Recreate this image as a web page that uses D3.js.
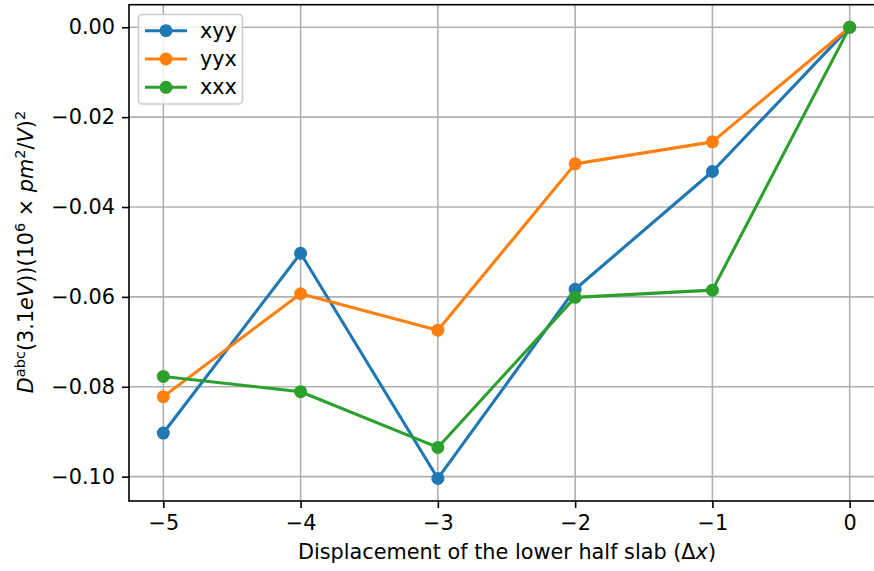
<!DOCTYPE html>
<html lang="en">
<head>
<meta charset="utf-8">
<title>Displacement chart</title>
<script src="https://cdn.jsdelivr.net/npm/d3@7"></script>
<style>
  body { margin: 0; background: #fff; }
  svg { font-family: "DejaVu Sans", sans-serif; }
</style>
</head>
<body>
<script>
// data
var displacement = [-5, -4, -3, -2, -1, 0];
var xyy = [-0.0903, -0.0503, -0.1004, -0.0583, -0.0321, 0.0];
var yyx = [-0.0822, -0.0593, -0.0674, -0.0304, -0.0255, 0.0];
var xxx = [-0.0777, -0.0811, -0.0935, -0.0601, -0.0585, 0.0];
var seriesNames = ["xyy", "yyx", "xxx"];
var seriesColors = ["#1f77b4", "#ff7f0e", "#2ca02c"];
var xTicks = [-5, -4, -3, -2, -1, 0];
var yTicks = [0, -0.02, -0.04, -0.06, -0.08, -0.10];

var w = 874, h = 571;
var padL = 129, padR = 884, padT = 4.7, padB = 501;
var fs = "20.8px", fsSup = "14.5px";

var svg = d3.select("body").append("svg")
  .attr("width", w).attr("height", h);

var allVals = xyy.concat(yyx, xxx);
var ymin = d3.min(allVals), ymax = d3.max(allVals);
var ypad = (ymax - ymin) * 0.05;
var xpad = (d3.max(displacement) - d3.min(displacement)) * 0.05;

var x = d3.scaleLinear()
  .domain([d3.min(displacement) - xpad, d3.max(displacement) + xpad])
  .range([padL, padR]);
var y = d3.scaleLinear()
  .domain([ymin - ypad, ymax + ypad])
  .range([padB, padT]);

// grid
svg.append("g").selectAll("line").data(xTicks).enter().append("line")
  .attr("x1", function(d) { return x(d); }).attr("x2", function(d) { return x(d); })
  .attr("y1", padT).attr("y2", padB)
  .attr("stroke", "#b0b0b0").attr("stroke-width", 1.6);
svg.append("g").selectAll("line").data(yTicks).enter().append("line")
  .attr("x1", padL).attr("x2", padR)
  .attr("y1", function(d) { return y(d); }).attr("y2", function(d) { return y(d); })
  .attr("stroke", "#b0b0b0").attr("stroke-width", 1.6);

// axes
var fmtMinus = function(s) { return s.replace("-", "\u2212"); };
var xAxis = d3.axisBottom(x).tickValues(xTicks).tickSizeOuter(0).tickSizeInner(7).tickPadding(7)
  .tickFormat(function(d) { return fmtMinus(d3.format("d")(d)); });
var yAxis = d3.axisLeft(y).tickValues(yTicks).tickSizeOuter(0).tickSizeInner(7).tickPadding(7)
  .tickFormat(function(d) { return fmtMinus(d3.format(".2f")(d)); });

var gx = svg.append("g").attr("transform", "translate(0," + padB + ")").call(xAxis);
var gy = svg.append("g").attr("transform", "translate(" + padL + ",0)").call(yAxis);
[gx, gy].forEach(function(g) {
  g.select(".domain").remove();
  g.selectAll(".tick line").attr("stroke", "#000").attr("stroke-width", 1.6);
  g.selectAll(".tick text").attr("fill", "#000")
    .style("font-family", "DejaVu Sans").style("font-size", fs);
});

// series
var data = [xyy, yyx, xxx];
var line = d3.line()
  .x(function(d, i) { return x(displacement[i]); })
  .y(function(d) { return y(d); });

data.forEach(function(vals, k) {
  var g = svg.append("g");
  g.append("path").datum(vals)
    .attr("d", line).attr("fill", "none")
    .attr("stroke", seriesColors[k]).attr("stroke-width", 3.1)
    .attr("stroke-linejoin", "round").attr("stroke-linecap", "square");
  g.selectAll("circle").data(vals).enter().append("circle")
    .attr("cx", function(d, i) { return x(displacement[i]); })
    .attr("cy", function(d) { return y(d); })
    .attr("r", 6.5)
    .attr("fill", seriesColors[k]);
});

// spines
svg.append("rect")
  .attr("x", padL).attr("y", padT)
  .attr("width", padR - padL).attr("height", padB - padT)
  .attr("fill", "none").attr("stroke", "#000").attr("stroke-width", 1.6);

// legend
var leg = svg.append("g");
leg.append("rect")
  .attr("x", 138.5).attr("y", 14.5).attr("width", 104).attr("height", 89.5)
  .attr("rx", 4).attr("fill", "#fff").attr("fill-opacity", 0.8)
  .attr("stroke", "#cccccc").attr("stroke-width", 1.6);
seriesNames.forEach(function(name, k) {
  var yy = 30.7 + k * 28.3;
  leg.append("line").attr("x1", 145).attr("x2", 187).attr("y1", yy).attr("y2", yy)
    .attr("stroke", seriesColors[k]).attr("stroke-width", 3.1);
  leg.append("circle").attr("cx", 166).attr("cy", yy).attr("r", 6.5)
    .attr("fill", seriesColors[k]);
  leg.append("text").attr("x", 200).attr("y", yy + 7)
    .attr("font-size", fs).attr("fill", "#000").text(name);
});

// x label
var xl = svg.append("text")
  .attr("x", 507).attr("y", 559)
  .attr("text-anchor", "middle").attr("font-size", fs).attr("fill", "#000");
xl.append("tspan").text("Displacement of the lower half slab (\u0394");
xl.append("tspan").attr("font-style", "italic").text("x");
xl.append("tspan").text(")");

// y label
var yl = svg.append("text")
  .attr("transform", "translate(33," + 252 + ") rotate(-90)")
  .attr("text-anchor", "middle").attr("font-size", fs).attr("fill", "#000");
yl.append("tspan").attr("font-style", "italic").text("D");
yl.append("tspan").attr("font-size", fsSup).attr("dy", -8).text("abc");
yl.append("tspan").attr("dy", 8).text("(3.1");
yl.append("tspan").attr("font-style", "italic").text("eV");
yl.append("tspan").text("))(10");
yl.append("tspan").attr("font-size", fsSup).attr("dy", -8).text("6");
yl.append("tspan").attr("dy", 8).text(" \u00d7 ");
yl.append("tspan").attr("font-style", "italic").text("pm");
yl.append("tspan").attr("font-size", fsSup).attr("dy", -8).text("2");
yl.append("tspan").attr("dy", 8).text("/");
yl.append("tspan").attr("font-style", "italic").text("V");
yl.append("tspan").text(")");
yl.append("tspan").attr("font-size", fsSup).attr("dy", -8).text("2");
</script>
</body>
</html>
